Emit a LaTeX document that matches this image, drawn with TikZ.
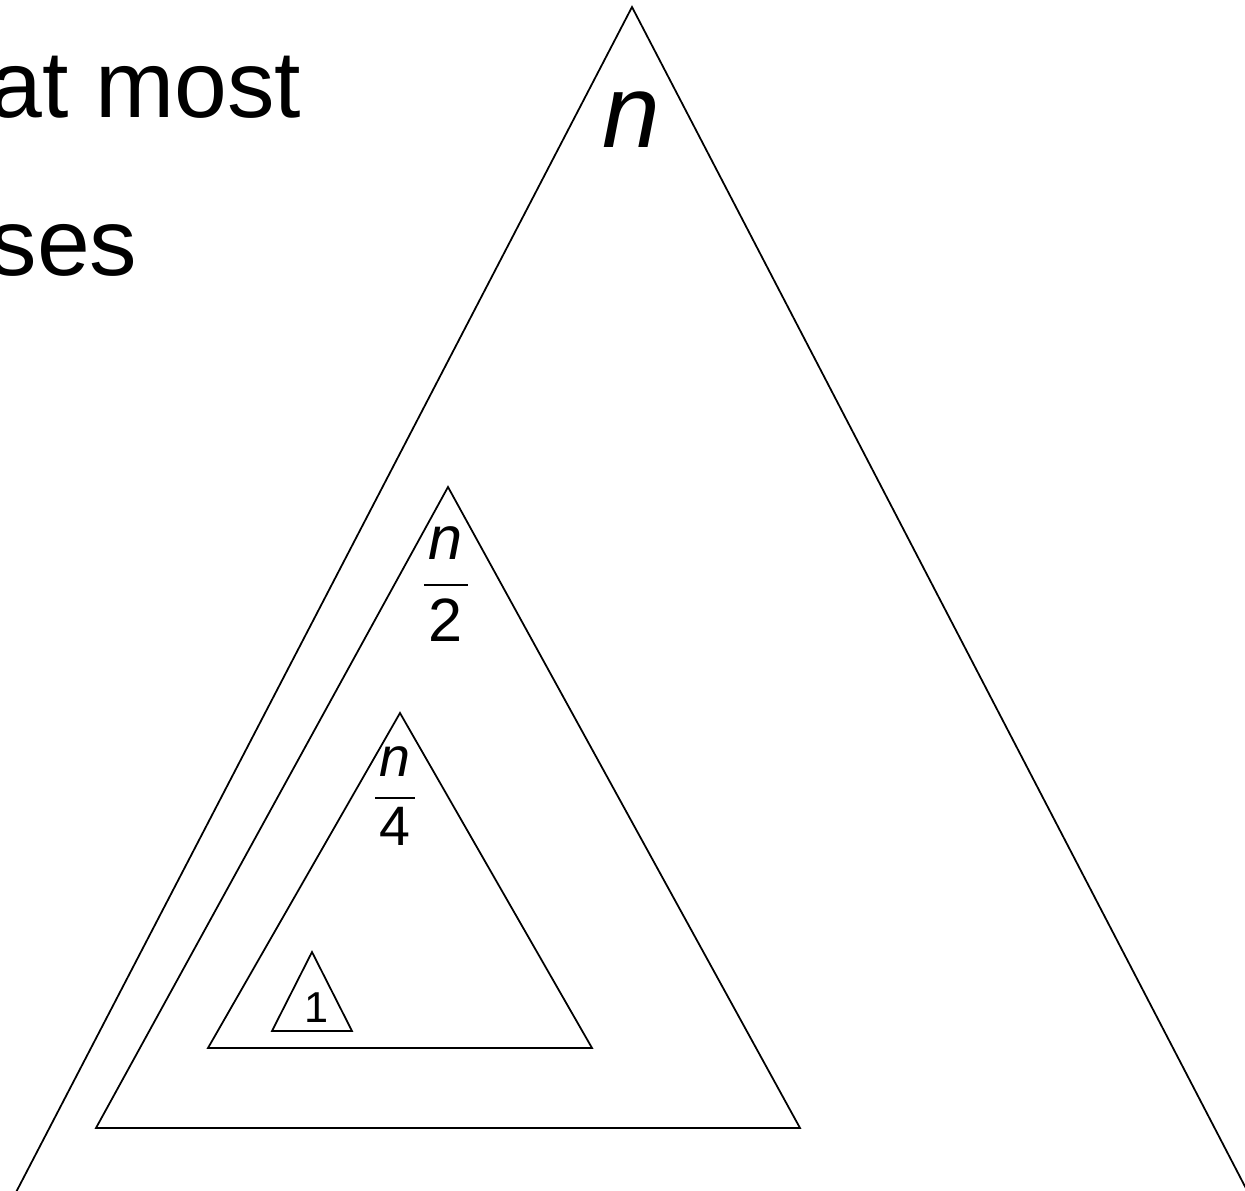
\documentclass[tikz,border=0pt]{standalone}
\usepackage{amsmath}
\usepackage{fontspec}
\setmainfont{Liberation Sans}
\usetikzlibrary{calc}

\tikzset{
  tri/.style={black, line width=0.5pt, line join=miter},
  lbl/.style={inner sep=0pt, text=black},
}
\newcommand{\sizefrac}[2]{$\dfrac{\mkern1.5mu\textit{#1}\mkern1.5mu}{\text{#2}}$}

\begin{document}
\begin{tikzpicture}[x=0.01cm,y=-0.01cm,line cap=round]
  \useasboundingbox (0,0) rectangle (1245,1191);
  \clip (0,0) rectangle (1245,1191);

  % Heading text, cut at the left margin
  \node[lbl, anchor=base east, font=\fontsize{27}{32}\selectfont] (atmost) at (302,118) {at most};
  \node[lbl, anchor=base east, font=\fontsize{27}{32}\selectfont] (cases) at (138,276) {ses};

  % Nested triangles: apex x/y, base left, base right, base y
  \foreach \ax/\ay/\bl/\br/\by in {632/7/-14/1278/1250, 448/487/96/800/1128,
                                   400/713/208/592/1048, 312/952/272/352/1031}{
    \draw[tri] (\ax,\ay) -- (\br,\by) -- (\bl,\by) -- cycle;
  }

  % Sizes of the subproblems
  \node[lbl, font=\fontsize{29.5}{34}\selectfont\itshape] (sizen) at (631,120) {n};
  \node[lbl, font=\fontsize{17.4}{20}\selectfont] (sizehalf) at (446,584) {\sizefrac{n}{2}};
  \node[lbl, font=\fontsize{15.8}{19}\selectfont] (sizequarter) at (395,796) {\sizefrac{n}{4}};
  \node[lbl, font=\fontsize{12.3}{15}\selectfont] (sizeone) at (317,1008) {1};
\end{tikzpicture}
\end{document}
